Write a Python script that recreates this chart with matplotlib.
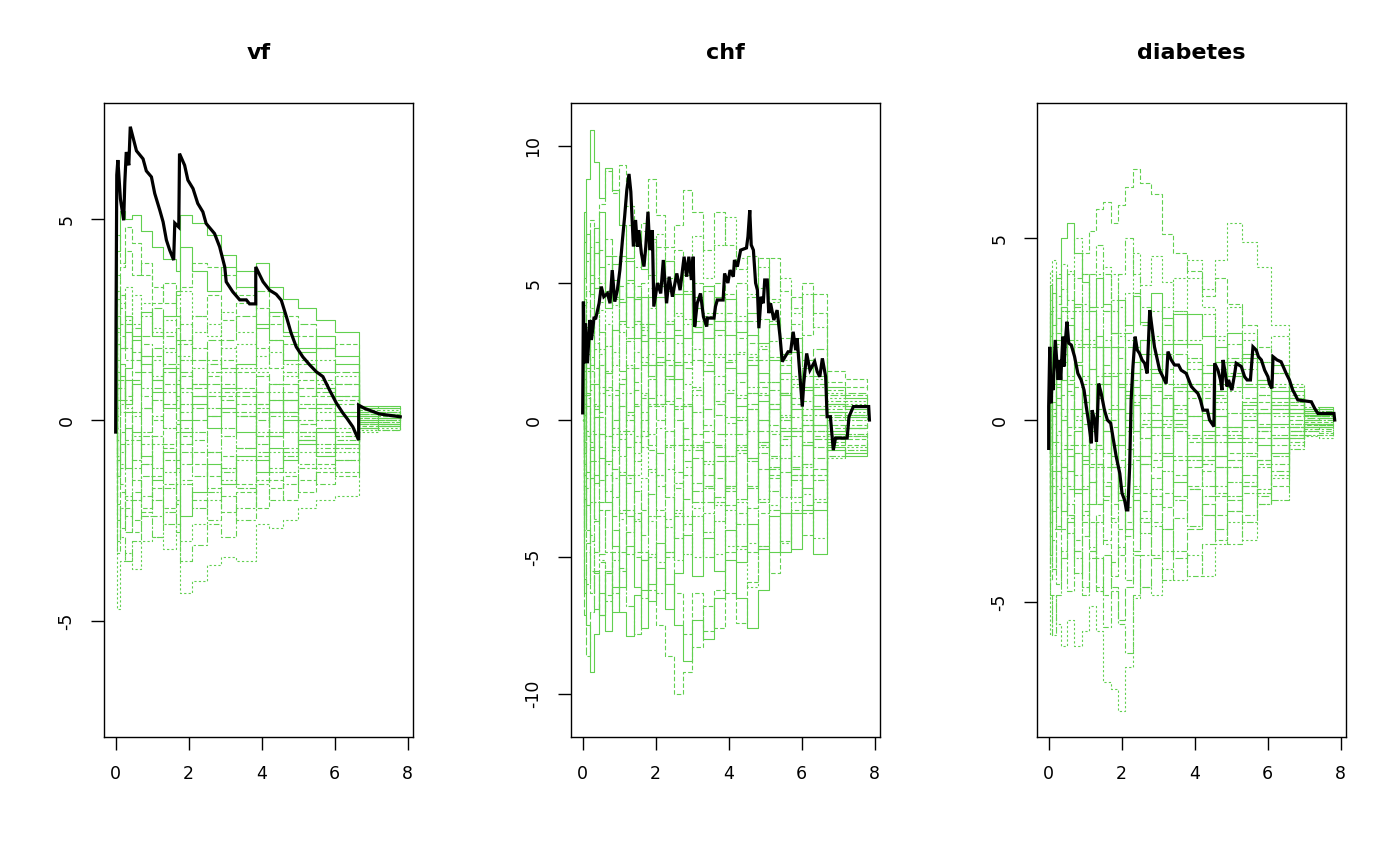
import matplotlib
matplotlib.use("Agg")
import matplotlib.pyplot as plt
import numpy as np

titles = ["vf", "chf", "diabetes"]

# ---------------- panel 1 : vf ----------------
vf_obs_t = [0.00, 0.01, 0.03, 0.06, 0.13, 0.22, 0.25, 0.29, 0.36, 0.40, 0.57, 0.75, 0.84, 0.98,
            1.07, 1.21, 1.30, 1.39, 1.48, 1.59, 1.62, 1.73, 1.75, 1.89, 1.98, 2.12, 2.25, 2.39,
            2.48, 2.71, 2.85, 2.99, 3.03, 3.21, 3.40, 3.58, 3.67, 3.84, 3.84, 4.04, 4.22, 4.40,
            4.54, 4.68, 4.81, 4.95, 5.13, 5.32, 5.50, 5.68, 5.86, 6.05, 6.23, 6.34, 6.50, 6.66,
            6.66, 6.82, 7.23, 7.80]
vf_obs_v = [-0.3, 2.5, 6.1, 6.47, 5.5, 4.97, 5.9, 6.67, 6.34, 7.3, 6.7, 6.5, 6.2, 6.05,
            5.64, 5.22, 4.93, 4.48, 4.23, 3.98, 4.9, 4.8, 6.63, 6.34, 5.97, 5.76, 5.39, 5.18,
            4.89, 4.64, 4.31, 3.81, 3.44, 3.19, 2.99, 2.99, 2.89, 2.89, 3.81, 3.44, 3.23, 3.13,
            2.98, 2.57, 2.16, 1.82, 1.57, 1.37, 1.2, 1.08, 0.75, 0.42, 0.17, 0.04, -0.17, -0.5,
            0.37, 0.29, 0.15, 0.08]
vf_sim_t = [0, 0.03, 0.12, 0.25, 0.45, 0.7, 1.0, 1.3, 1.66, 1.75, 2.1, 2.5, 2.9, 3.3, 3.84,
            4.2, 4.6, 5.0, 5.5, 6.0, 6.66, 7.2, 7.8]
vf_sim = [
    [0, 4.2, 5.2, 5.0, 5.1, 4.7, 4.3, 4.0, 3.7, 5.1, 4.9, 4.6, 4.1, 3.7, 3.9, 3.3, 3.0, 2.8, 2.5, 2.2, 0.3, 0.35, 0.3],
    [0, 3.0, 3.8, 4.2, 3.6, 3.9, 3.3, 2.9, 3.1, 3.3, 3.9, 3.8, 3.6, 3.1, 2.8, 2.4, 2.6, 2.1, 1.8, 1.9, 0.2, 0.15, 0.1],
    [0, 2.2, 2.9, 2.5, 3.1, 2.6, 2.2, 2.5, 1.9, 1.6, 2.2, 2.4, 1.8, 1.3, 1.6, 2.0, 1.4, 1.2, 1.5, 0.9, -0.1, 0.0, -0.05],
    [0, 1.5, 2.1, 1.8, 1.2, 1.9, 1.6, 0.9, 1.4, 2.4, 1.8, 1.2, 1.5, 0.8, 0.4, 0.9, 1.2, 0.6, 0.8, 0.4, 0.1, 0.05, 0.0],
    [0, 0.8, 1.4, 0.6, 1.0, 0.3, 0.8, 1.2, 0.5, -0.6, 0.0, 0.6, 0.2, 0.7, 1.1, 0.5, 0.2, 0.8, 0.4, 0.6, -0.2, -0.15, -0.1],
    [0, -0.5, 0.4, 1.0, 0.2, -0.3, 0.5, -0.2, 0.3, 1.5, 0.9, 0.3, -0.4, 0.1, -0.6, 0.2, -0.3, 0.4, 0.0, -0.4, 0.25, 0.2, 0.15],
    [0, -1.4, -0.6, -1.2, -0.3, -0.9, -1.5, -0.8, -1.2, -2.4, -1.8, -1.1, -1.6, -0.9, -1.3, -0.7, -1.0, -0.5, -0.9, -0.6, -0.05, -0.1, 0.0],
    [0, -2.5, -1.8, -2.2, -2.8, -2.3, -1.7, -2.2, -1.6, -0.2, -0.8, -1.4, -0.9, -1.6, -2.2, -1.7, -1.4, -1.8, -1.3, -1.0, 0.15, 0.1, 0.05],
    [0, -4.7, -3.5, -3.3, -3.7, -3.0, -2.9, -3.2, -2.6, -4.3, -4.0, -3.6, -3.4, -3.5, -2.6, -2.7, -2.5, -2.2, -2.0, -1.9, -0.3, -0.25, -0.2],
    [0, -3.3, -2.7, -2.0, -2.5, -1.9, -2.4, -1.6, -2.1, -3.5, -3.1, -2.6, -2.9, -2.2, -1.5, -2.0, -1.6, -1.2, -1.6, -1.3, 0.05, 0.0, 0.05],
    [0, 2.6, 1.8, 2.4, 1.7, 1.2, 1.8, 1.4, 2.0, 0.8, 0.3, 0.9, 0.5, 0.1, 0.7, 0.2, 0.5, -0.1, 0.3, 0.1, -0.2, -0.25, -0.2],
    [0, 0.3, -0.8, -0.2, -1.0, -0.4, -1.2, -1.7, -1.0, 0.4, -0.3, -0.8, -0.2, -0.7, 0.3, -0.3, -0.8, -0.3, -0.6, -1.0, 0.1, 0.15, 0.1],
    [0, 1.2, 0.5, 1.3, 2.0, 1.4, 0.7, 1.3, 0.6, 0.0, 0.6, 0.1, 0.8, 1.4, 2.4, 2.0, 1.5, 1.8, 1.2, 1.4, 0.0, 0.05, 0.0],
    [0, -1.9, -1.2, -0.5, -1.5, -2.2, -1.4, -0.7, -1.3, -0.4, -1.1, -1.7, -2.3, -1.8, -0.9, -1.5, -2.0, -1.5, -1.1, -1.4, -0.15, -0.1, -0.1],
    [0, 3.6, 2.8, 3.3, 2.4, 2.9, 2.3, 1.7, 2.3, 3.2, 2.6, 2.1, 2.7, 2.2, 1.3, 1.7, 1.1, 1.5, 0.9, 1.1, 0.2, 0.25, 0.2],
    [0, -0.9, -1.6, -2.4, -1.8, -1.1, -0.4, -1.0, -0.3, -1.5, -2.0, -2.5, -1.9, -2.5, -1.6, -1.2, -0.7, -1.1, -0.7, -0.3, -0.1, -0.05, -0.05],
    [0, 0.5, 1.0, 0.2, -0.5, 0.3, 1.0, 0.4, 1.0, 2.0, 1.5, 2.0, 1.3, 0.6, 0.0, 0.5, 0.9, 0.3, 0.7, 0.9, 0.3, 0.3, 0.25],
    [0, -3.0, -2.2, -2.8, -2.0, -1.4, -2.0, -2.6, -2.0, -0.8, -1.4, -0.8, -1.3, -0.7, 0.2, -0.4, 0.1, -0.5, -0.2, -0.7, -0.05, 0.0, 0.0],
    [0, 1.9, 1.1, 0.4, 0.9, 1.6, 1.0, 0.3, 0.9, -0.3, 0.4, -0.2, 0.3, -0.3, -1.0, -0.4, 0.0, -0.6, -0.3, 0.2, 0.1, 0.05, 0.1],
    [0, 4.6, 3.9, 4.8, 4.4, 3.6, 2.9, 3.4, 2.8, 1.9, 2.6, 3.1, 2.5, 2.9, 1.8, 1.3, 1.9, 1.4, 1.0, 0.6, -0.1, -0.15, -0.1],
    [0, 0.9, 0.2, -0.6, 0.1, 0.8, 1.5, 2.2, 1.6, 0.7, 1.3, 0.7, 1.2, 1.9, 1.2, 0.7, 0.2, -0.3, 0.2, -0.2, 0.0, -0.05, 0.0],
    [0, -0.2, -1.1, -1.9, -1.2, -0.6, 0.1, 0.7, 0.0, -1.1, -0.5, 0.1, 0.7, 0.2, -0.4, 0.1, 0.5, 0.0, 0.4, 0.1, -0.1, -0.1, -0.05],
    [0, 2.3, 3.1, 2.2, 1.5, 2.1, 2.8, 2.1, 2.6, 1.2, 0.8, 1.4, 2.0, 2.6, 3.2, 2.6, 2.1, 2.4, 1.8, 1.2, 0.15, 0.2, 0.15],
    [0, -2.1, -2.9, -3.5, -3.0, -2.4, -2.9, -2.3, -2.8, -1.6, -2.2, -1.8, -1.2, -1.7, -0.8, -1.3, -0.9, -0.4, -0.8, -0.5, -0.2, -0.15, -0.2],
    [0, 1.0, 1.8, 2.6, 2.1, 2.7, 2.1, 2.6, 3.2, 4.3, 3.7, 3.2, 3.8, 3.3, 2.3, 2.7, 2.2, 1.7, 2.1, 1.6, 0.35, 0.3, 0.3],
    [0, -1.0, -0.3, 0.5, 1.2, 0.6, 0.0, -0.6, -0.1, 1.1, 0.6, 1.1, 0.6, 1.2, 0.4, 0.9, 0.5, 1.0, 0.6, 0.2, 0.05, 0.1, 0.05],
    [0, 0.1, 0.8, 0.3, -0.4, -1.1, -0.6, -1.3, -2.0, -3.0, -2.6, -2.0, -1.5, -1.0, -0.3, -0.8, -1.3, -0.8, -1.2, -0.8, -0.25, -0.2, -0.25],
    [0, 3.2, 2.4, 1.5, 2.3, 1.6, 1.1, 1.8, 1.3, 0.2, 0.9, 1.5, 0.9, 0.4, -0.4, 0.2, 0.7, 1.2, 0.8, 0.5, 0.2, 0.2, 0.15],
]

# ---------------- panel 2 : chf ----------------
chf_obs_t = [0.00, 0.02, 0.04, 0.08, 0.13, 0.20, 0.24, 0.31, 0.36, 0.45, 0.51, 0.58, 0.68, 0.75,
             0.81, 0.88, 0.95, 1.02, 1.09, 1.15, 1.21, 1.27, 1.32, 1.39, 1.45, 1.50, 1.54, 1.61,
             1.68, 1.73, 1.79, 1.84, 1.91, 1.95, 2.05, 2.14, 2.21, 2.30, 2.37, 2.46, 2.58, 2.67,
             2.78, 2.85, 2.91, 2.98, 3.03, 3.07, 3.14, 3.23, 3.31, 3.40, 3.42, 3.60, 3.64, 3.69,
             3.85, 3.89, 3.98, 4.04, 4.13, 4.16, 4.24, 4.33, 4.49, 4.53, 4.58, 4.62, 4.68, 4.74,
             4.79, 4.83, 4.89, 4.95, 4.99, 5.06, 5.10, 5.15, 5.24, 5.33, 5.41, 5.47, 5.63, 5.70,
             5.77, 5.84, 5.88, 5.97, 6.02, 6.06, 6.14, 6.23, 6.36, 6.43, 6.50, 6.57, 6.66, 6.70,
             6.79, 6.87, 6.93, 7.25, 7.30, 7.42, 7.84, 7.86]
chf_obs_v = [0.26, 4.32, 2.07, 3.53, 2.07, 3.65, 2.92, 3.72, 3.72, 4.26, 4.87, 4.5, 4.62, 4.26,
             5.47, 4.32, 4.74, 5.47, 6.57, 7.42, 8.39, 8.98, 8.33, 6.33, 7.3, 6.33, 6.93, 6.08,
             5.6, 6.33, 7.6, 6.2, 6.93, 4.14, 5.0, 4.62, 5.84, 4.26, 5.23, 4.5, 5.35, 4.74,
             5.96, 5.23, 5.96, 5.11, 5.96, 3.41, 4.26, 4.62, 3.77, 3.41, 3.72, 3.72, 4.14, 4.38,
             4.38, 5.35, 5.0, 5.47, 5.23, 5.84, 5.6, 6.2, 6.28, 6.69, 7.66, 6.39, 6.2, 5.0,
             4.74, 3.35, 4.5, 4.26, 5.11, 5.11, 3.9, 4.26, 3.65, 4.01, 3.04, 2.13, 2.49, 2.49,
             3.22, 2.55, 2.98, 1.34, 0.49, 1.34, 2.43, 1.82, 2.13, 1.76, 1.58, 2.25, 1.58, 0.12,
             0.12, -1.1, -0.66, -0.66, 0.12, 0.49, 0.49, 0.0]
chf_sim_t = [0, 0.03, 0.1, 0.2, 0.3, 0.45, 0.6, 0.8, 1.0, 1.2, 1.4, 1.6, 1.8, 2.0, 2.25, 2.5,
             2.75, 3.0, 3.3, 3.6, 3.9, 4.2, 4.5, 4.8, 5.1, 5.4, 5.7, 6.0, 6.3, 6.7, 7.2, 7.8]
chf_sim = [
    [0, 6.5, 8.8, 10.6, 9.4, 8.1, 9.2, 8.4, 7.1, 5.9, 6.8, 5.5, 6.6, 4.9, 5.8, 4.6, 5.3, 4.1, 4.9, 3.6, 4.4, 3.2, 3.9, 2.8, 3.5, 2.4, 3.0, 2.2, 1.6, 1.2, 0.8, 0.6],
    [0, 4.2, 5.8, 7.3, 6.1, 7.9, 9.1, 8.3, 9.3, 7.8, 6.4, 7.2, 8.8, 7.5, 6.3, 7.1, 8.4, 7.6, 6.2, 7.6, 6.4, 5.5, 6.0, 4.8, 5.9, 4.7, 4.1, 5.0, 3.9, 1.8, 1.5, 1.2],
    [0, 2.8, 4.3, 3.1, 5.2, 4.0, 2.7, 4.4, 3.2, 1.9, 3.6, 2.3, 4.1, 2.9, 1.5, 2.8, 1.3, 2.6, 3.9, 2.4, 1.1, 2.5, 1.2, 2.7, 1.4, 0.2, 1.6, 0.4, 1.5, 0.5, 0.3, 0.2],
    [0, 1.5, -0.6, 1.8, 0.4, 2.6, 1.1, -0.5, 1.3, 2.9, 1.4, 3.4, 2.0, 0.6, 2.2, 0.8, -0.7, 1.1, -0.4, 1.6, 0.1, -1.2, 0.4, -0.9, 0.6, -0.7, 0.8, -0.4, 0.9, -0.3, -0.2, -0.1],
    [0, -1.2, 0.9, -0.8, -2.3, -0.5, 1.2, -0.3, -1.9, -0.4, 1.1, -0.6, 0.8, 2.3, 0.7, 2.1, 0.5, -1.1, 0.4, -1.3, -2.6, -1.1, -2.4, -0.8, -2.1, -0.6, -1.7, -0.2, -1.4, 0.2, 0.1, 0.1],
    [0, -3.6, -2.1, -4.4, -3.0, -4.9, -3.3, -1.8, -3.4, -2.0, -3.7, -5.1, -3.5, -2.0, -3.9, -2.3, -0.9, -2.6, -4.1, -2.8, -1.3, -2.9, -1.5, -3.0, -1.7, -0.4, -2.0, -0.8, -2.2, -0.6, -0.5, -0.4],
    [0, -5.8, -7.5, -9.2, -7.8, -6.3, -7.7, -6.1, -7.0, -7.9, -6.4, -5.1, -6.6, -5.4, -6.9, -5.6, -4.2, -5.7, -4.3, -5.5, -4.0, -5.2, -3.8, -4.7, -3.5, -4.8, -3.4, -2.5, -3.3, -1.0, -1.2, -0.9],
    [0, -2.4, -4.0, -5.5, -6.9, -5.2, -6.4, -4.8, -3.3, -4.9, -3.4, -4.8, -6.2, -7.5, -8.6, -10.0, -9.2, -8.3, -6.8, -7.6, -6.3, -7.4, -5.9, -4.6, -5.6, -4.4, -3.3, -4.2, -3.0, -0.7, -0.9, -0.6],
    [0, 0.6, 2.4, 4.1, 2.6, 4.3, 5.7, 4.2, 5.8, 7.1, 5.6, 6.9, 5.3, 6.8, 5.2, 3.8, 5.4, 6.7, 5.2, 6.4, 7.4, 5.9, 4.6, 5.6, 4.3, 5.2, 3.9, 4.6, 3.4, 1.0, 0.7, 0.8],
    [0, -0.3, -1.9, -0.4, 1.3, 0.1, -1.6, -2.8, -1.3, 0.2, -1.2, 0.3, -1.1, -2.4, -0.9, -2.5, -3.8, -2.3, -0.8, -2.1, -0.5, 0.9, -0.4, 1.2, -0.2, 1.0, -0.3, 0.7, -0.6, 0.4, 0.5, 0.3],
    [0, 3.5, 1.9, 3.4, 4.8, 6.2, 4.7, 6.0, 4.4, 3.0, 4.5, 3.1, 1.6, 3.2, 4.7, 3.3, 1.9, 3.4, 2.0, 0.6, 2.1, 3.6, 2.2, 3.7, 2.3, 1.0, 2.5, 1.2, 2.6, 0.9, 1.0, 0.7],
    [0, -4.5, -6.0, -4.2, -5.6, -7.1, -5.5, -7.0, -5.4, -6.8, -7.8, -6.2, -4.9, -6.3, -4.8, -3.4, -4.9, -3.5, -5.0, -3.7, -2.4, -3.8, -2.5, -1.2, -2.6, -1.4, -2.8, -1.6, -0.4, -1.3, -1.1, -0.8],
    [0, 5.2, 6.8, 5.3, 7.0, 5.6, 4.1, 5.7, 4.3, 5.8, 4.4, 2.9, 4.5, 3.0, 1.6, 3.1, 4.6, 3.2, 1.8, 3.3, 1.9, 0.5, 2.0, 0.7, 2.2, 0.9, -0.4, 1.1, -0.2, 0.6, 0.4, 0.3],
    [0, -2.0, -0.4, -2.1, -3.7, -2.2, -0.6, 0.9, -0.7, -2.3, -0.8, 0.8, -0.9, 0.6, 2.0, 0.5, 2.1, 3.6, 2.1, 0.7, 2.2, 0.8, 2.3, 0.9, -0.5, 1.0, -0.4, 1.2, -0.2, -0.8, -0.6, -0.5],
    [0, 1.0, 2.7, 1.1, -0.5, 1.0, -0.6, -2.1, -0.5, -2.0, -3.6, -2.1, -3.7, -5.2, -3.6, -5.1, -3.5, -5.0, -3.4, -4.9, -3.3, -4.7, -6.1, -4.6, -3.1, -4.5, -3.0, -1.6, -2.9, -0.5, -0.3, -0.2],
    [0, 2.1, 0.5, -1.1, 0.6, -1.0, -2.6, -1.1, 0.5, 2.0, 0.6, -1.0, 0.5, 2.1, 3.6, 5.1, 3.7, 2.2, 3.8, 2.3, 3.9, 2.4, 1.0, 2.6, 1.1, -0.3, 1.2, -0.2, 1.3, 1.1, 0.9, 0.8],
    [0, -7.1, -8.6, -7.0, -5.5, -7.1, -5.6, -4.0, -5.5, -4.1, -2.6, -4.2, -2.7, -1.2, -2.8, -4.3, -2.9, -1.4, -3.0, -1.5, -3.1, -4.6, -3.2, -1.8, -3.3, -1.9, -0.6, -2.0, -0.7, -0.2, -0.3, -0.1],
    [0, 3.0, 4.7, 6.3, 4.8, 3.2, 1.7, 3.3, 1.8, 0.3, 1.9, 3.5, 2.0, 0.5, -1.0, 0.4, -1.1, 0.3, 1.8, 0.2, -1.3, 0.1, -1.4, 0.0, 1.4, 0.1, 1.5, 0.2, -1.0, 0.3, 0.2, 0.2],
    [0, -1.6, -3.1, -1.5, 0.1, -1.4, -3.0, -4.6, -6.1, -4.6, -6.1, -7.6, -6.0, -4.5, -6.0, -7.5, -8.8, -7.3, -8.0, -6.5, -5.1, -6.5, -7.6, -6.2, -4.8, -3.4, -4.7, -3.3, -4.9, -1.1, -1.3, -1.0],
    [0, 0.2, 1.8, 3.4, 1.9, 0.3, 1.8, 3.3, 4.9, 3.4, 4.9, 3.3, 4.8, 6.3, 4.8, 6.2, 4.7, 3.2, 4.7, 3.1, 4.6, 3.0, 4.5, 5.9, 4.4, 3.0, 4.5, 3.1, 4.6, 1.4, 1.2, 1.1],
    [0, -0.8, 0.8, 2.3, 3.9, 2.4, 0.9, 2.5, 1.0, -0.5, -2.0, -0.4, -1.9, -0.3, -1.8, -3.3, -1.7, -3.2, -1.6, -3.1, -4.6, -3.0, -4.5, -2.9, -1.4, -2.8, -1.3, -2.7, -4.3, -1.4, -1.0, -0.7],
    [0, 4.4, 2.9, 1.3, 2.8, 1.2, 2.7, 1.1, -0.4, 1.0, 2.5, 1.0, -0.5, -2.0, -0.4, -1.9, -0.3, 1.2, -0.2, 1.3, -0.1, 1.4, 2.8, 1.4, 2.9, 1.5, 0.1, 1.6, 0.2, 0.0, 0.1, 0.0],
    [0, 1.8, 3.4, 5.0, 6.5, 5.0, 6.6, 5.1, 3.6, 5.1, 3.6, 2.1, 0.6, 2.1, 0.6, -0.9, 0.6, -0.9, -2.4, -0.9, -2.4, -0.9, 0.6, -0.8, 0.6, 2.0, 0.6, 1.9, 0.5, 0.6, 0.5, 0.4],
    [0, -2.9, -4.5, -3.0, -1.5, -3.0, -1.5, 0.0, 1.5, 0.0, -1.5, 0.0, 1.5, 0.0, 1.5, 0.0, -1.5, -3.0, -1.5, -3.0, -1.5, 0.0, -1.4, 0.0, -1.3, 0.0, 1.3, 0.0, 1.2, 0.3, 0.2, 0.2],
    [0, 7.6, 6.1, 4.6, 6.1, 7.6, 6.0, 4.5, 6.0, 4.5, 3.0, 4.5, 3.0, 4.5, 3.0, 1.5, 3.0, 4.5, 3.0, 4.5, 3.1, 1.7, 3.1, 1.7, 0.4, 1.7, 0.4, -0.9, 0.4, -0.4, -0.3, -0.2],
    [0, -6.3, -4.8, -6.3, -4.8, -3.3, -4.8, -6.3, -4.8, -3.3, -4.8, -3.3, -1.8, -3.3, -4.8, -6.3, -7.8, -6.3, -7.7, -6.2, -4.8, -3.4, -4.8, -3.4, -2.0, -3.4, -2.0, -3.4, -2.0, -0.9, -0.7, -0.6],
    [0, 0.9, -0.6, -2.1, -3.6, -5.1, -6.6, -5.1, -3.6, -2.1, -0.6, 0.9, 2.4, 0.9, 2.4, 3.9, 2.4, 0.9, 2.4, 3.9, 2.4, 3.8, 2.4, 1.0, -0.4, 1.0, -0.4, -1.7, -0.4, 0.8, 0.6, 0.5],
    [0, -1.0, 0.5, 2.0, 0.5, 2.0, 3.5, 2.0, 3.5, 5.0, 3.5, 5.0, 6.5, 5.0, 3.5, 2.0, 3.5, 5.0, 3.5, 5.0, 3.6, 5.0, 3.6, 2.2, 3.6, 2.2, 3.5, 2.2, 0.9, 0.7, 0.5, 0.5],
    [0, 2.5, 1.0, -0.5, -2.0, -0.5, -2.0, -3.5, -2.0, -3.5, -5.0, -6.5, -5.0, -3.5, -5.0, -3.5, -2.0, -0.5, -2.0, -0.5, 1.0, -0.5, 1.0, -0.4, -1.8, -0.4, -1.8, -3.1, -1.8, -0.5, -0.6, -0.4],
    [0, -4.0, -2.5, -1.0, 0.5, 2.0, 0.5, -1.0, 0.5, -1.0, 0.5, 2.0, 3.5, 2.0, 3.5, 2.0, 0.5, -1.0, -2.5, -1.0, -2.5, -1.0, 0.4, -1.0, 0.4, -0.9, -2.2, -0.9, 0.4, 0.1, 0.0, 0.0],
]

# ---------------- panel 3 : diabetes ----------------
dia_obs_t = [0.00, 0.00, 0.03, 0.07, 0.09, 0.12, 0.18, 0.26, 0.30, 0.33, 0.39, 0.42, 0.46, 0.50,
             0.55, 0.62, 0.71, 0.80, 0.89, 0.97, 1.03, 1.10, 1.17, 1.19, 1.26, 1.31, 1.37, 1.44,
             1.53, 1.61, 1.70, 1.76, 1.85, 1.95, 2.01, 2.08, 2.13, 2.17, 2.22, 2.26, 2.31, 2.37,
             2.43, 2.49, 2.56, 2.63, 2.70, 2.77, 2.83, 2.90, 2.98, 3.04, 3.13, 3.22, 3.27, 3.36,
             3.45, 3.56, 3.63, 3.77, 3.84, 3.91, 4.00, 4.09, 4.16, 4.23, 4.35, 4.41, 4.53, 4.55,
             4.64, 4.71, 4.75, 4.78, 4.84, 4.89, 4.93, 5.02, 5.10, 5.14, 5.28, 5.37, 5.44, 5.53,
             5.60, 5.69, 5.75, 5.83, 5.92, 6.01, 6.05, 6.12, 6.15, 6.26, 6.37, 6.45, 6.51, 6.60,
             6.69, 6.74, 6.83, 7.20, 7.29, 7.38, 7.82, 7.84]
dia_obs_v = [-0.78, 0.37, 2.01, 0.46, 1.19, 0.82, 2.2, 1.1, 1.65, 1.1, 2.29, 1.47, 2.2, 2.7,
             2.11, 2.06, 1.74, 1.28, 1.1, 0.82, 0.37, -0.09, -0.64, 0.27, 0.0, -0.6, 1.0, 0.73,
             0.27, 0.0, -0.09, -0.46, -1.0, -1.47, -2.01, -2.2, -2.47, -2.47, -1.28, 0.55, 1.47, 2.29,
             1.92, 1.83, 1.65, 1.56, 1.28, 3.02, 2.56, 2.01, 1.65, 1.37, 1.19, 1.0, 1.88, 1.65,
             1.51, 1.51, 1.37, 1.28, 1.1, 0.92, 0.82, 0.73, 0.55, 0.27, 0.27, 0.0, -0.18, 1.56,
             1.37, 1.1, 0.82, 1.65, 1.28, 0.92, 1.1, 0.82, 1.28, 1.56, 1.47, 1.19, 1.1, 1.1,
             2.01, 1.92, 1.74, 1.65, 1.37, 1.19, 1.0, 0.87, 1.74, 1.65, 1.6, 1.42, 1.28, 1.1,
             0.82, 0.73, 0.55, 0.5, 0.32, 0.18, 0.18, 0.0]
dia_sim_t = [0, 0.03, 0.1, 0.2, 0.35, 0.5, 0.7, 0.9, 1.1, 1.3, 1.5, 1.7, 1.9, 2.1, 2.3, 2.5,
             2.8, 3.1, 3.4, 3.8, 4.2, 4.55, 4.9, 5.3, 5.7, 6.1, 6.6, 7.0, 7.4, 7.8]
dia_sim = [
    [0, 3.7, 2.6, 3.9, 5.0, 5.4, 4.6, 3.8, 3.1, 3.9, 3.2, 2.4, 3.3, 2.6, 3.4, 2.7, 3.5, 2.8, 2.1, 2.9, 2.3, 1.6, 2.4, 1.7, 1.1, 1.5, 0.8, 0.3, 0.35, 0.3],
    [0, 1.9, 3.1, 2.4, 3.6, 2.8, 3.9, 4.6, 5.2, 5.8, 6.0, 5.4, 5.9, 6.4, 6.9, 6.5, 6.2, 5.1, 4.6, 4.1, 3.4, 3.9, 3.2, 2.6, 2.0, 1.3, 0.9, 0.2, 0.15, 0.1],
    [0, -5.9, -4.8, -5.6, -6.2, -5.5, -6.2, -5.8, -5.1, -5.8, -7.2, -7.4, -8.0, -6.8, -4.9, -4.6, -4.8, -4.1, -4.4, -3.7, -4.3, -3.4, -2.8, -3.3, -2.3, -1.6, -0.7, -0.45, -0.5, -0.4],
    [0, -3.2, -4.1, -2.9, -3.8, -2.7, -1.9, -2.8, -3.6, -2.6, -3.4, -4.3, -3.5, -4.4, -3.6, -2.7, -3.7, -4.4, -3.6, -4.3, -3.4, -2.6, -3.4, -2.6, -1.9, -1.2, -0.5, -0.2, -0.25, -0.2],
    [0, 0.8, -0.6, 0.9, 1.8, 0.7, 1.6, 2.5, 1.4, 0.6, 1.5, 2.4, 1.7, 0.8, -0.3, 0.6, 1.4, 0.7, -0.1, 0.8, 1.5, 0.7, -0.2, 0.5, 1.1, 0.4, 0.7, 0.1, 0.1, 0.1],
    [0, -1.4, 0.2, -0.9, -1.8, -0.8, -1.9, -1.1, -0.2, -1.2, -2.1, -1.3, -0.4, 0.7, -0.3, -1.2, -0.4, 0.6, -0.3, -1.1, -0.4, 0.5, -0.3, -0.9, -0.2, 0.4, -0.3, -0.1, -0.1, -0.05],
    [0, 2.9, 1.7, 0.6, 1.6, 2.6, 1.5, 0.5, 1.4, 2.3, 1.2, 0.3, -0.7, 0.2, 1.3, 2.2, 1.3, 2.1, 2.9, 2.1, 1.3, 2.0, 1.2, 1.8, 1.0, 0.6, 0.2, 0.25, 0.3, 0.25],
    [0, -2.2, -1.0, -2.4, -1.3, -0.2, 0.9, -0.1, -1.2, -2.3, -1.3, -0.2, -1.1, -2.4, -3.6, -2.5, -1.6, -2.4, -1.5, -0.6, -1.4, -2.1, -1.3, -0.6, -1.2, -0.5, -0.2, -0.15, -0.15, -0.1],
    [0, 1.2, 2.4, 3.4, 2.3, 1.2, 0.1, 1.1, 2.1, 3.1, 4.2, 3.3, 2.4, 3.5, 4.6, 3.7, 4.5, 3.8, 3.0, 3.9, 3.1, 2.3, 3.1, 2.4, 1.6, 2.3, 1.0, 0.35, 0.3, 0.3],
    [0, -4.4, -3.3, -4.5, -3.6, -4.7, -3.6, -2.5, -3.5, -4.6, -5.7, -4.7, -5.6, -6.4, -4.8, -3.7, -2.9, -3.6, -2.7, -1.9, -2.6, -1.8, -2.5, -1.7, -2.3, -1.5, -0.6, -0.3, -0.35, -0.3],
    [0, 0.3, 1.5, 0.4, -0.7, -1.8, -0.9, 0.2, -0.8, 0.3, 1.3, 0.4, 1.3, 2.4, 3.5, 2.6, 1.8, 2.6, 1.8, 1.0, 0.2, 1.0, 1.7, 1.0, 0.3, 0.9, 0.4, 0.05, 0.05, 0.0],
    [0, -0.6, -1.8, -3.0, -2.0, -3.1, -4.2, -3.2, -2.3, -1.3, -0.3, -1.3, -2.2, -1.2, -2.2, -3.1, -2.3, -1.4, -2.2, -2.9, -2.1, -1.3, -2.1, -2.8, -2.0, -2.2, -0.8, -0.4, -0.4, -0.35],
    [0, 2.3, 3.5, 2.2, 1.1, 2.2, 3.2, 2.1, 3.0, 2.0, 1.0, 2.0, 0.9, -0.2, 0.9, 1.8, 0.9, 0.1, 0.9, 0.1, -0.6, 0.1, -0.6, 0.0, -0.7, -0.1, 0.3, 0.15, 0.2, 0.15],
    [0, -2.8, -1.6, -0.4, 0.7, -0.4, -1.5, -2.6, -1.7, -0.7, -1.7, -2.7, -3.7, -2.8, -1.9, -1.0, -0.2, 0.6, -0.2, 0.6, 1.3, 0.6, 1.3, 0.6, -0.1, 0.5, 0.1, -0.05, -0.05, 0.0],
    [0, 3.3, 4.4, 3.2, 4.3, 3.3, 2.2, 3.2, 2.2, 1.2, 2.2, 1.3, 2.3, 1.4, 0.5, 1.4, 2.3, 3.1, 3.9, 4.4, 3.6, 4.4, 5.4, 4.9, 4.2, 2.6, 0.6, 0.2, 0.2, 0.2],
    [0, -1.0, 0.1, 1.2, 0.1, 1.1, 2.1, 1.2, 0.2, -0.8, 0.2, 1.2, 0.3, 1.3, 0.4, -0.5, -1.3, -0.5, 0.3, -0.5, -1.2, -2.0, -1.3, -2.0, -1.3, -0.7, -0.3, -0.25, -0.2, -0.2],
    [0, 1.6, 0.5, -0.6, -1.6, -2.6, -3.6, -4.6, -3.6, -4.7, -3.7, -4.6, -5.5, -4.6, -3.7, -4.6, -3.8, -3.0, -3.8, -3.0, -2.3, -3.0, -2.2, -1.5, -2.1, -1.4, -0.4, -0.1, -0.15, -0.1],
    [0, -0.2, 1.0, 2.1, 3.1, 4.1, 3.1, 4.0, 3.0, 2.0, 3.0, 2.0, 1.0, 2.0, 1.1, 0.2, 1.0, 1.8, 1.0, 1.7, 1.0, 0.3, -0.4, 0.3, -0.3, 0.3, 0.6, 0.3, 0.25, 0.2],
    [0, -3.7, -2.5, -1.4, -2.5, -1.4, -0.3, 0.7, -0.3, 0.7, -0.3, -1.3, -0.4, 0.6, 1.6, 0.7, -0.2, -1.0, -1.7, -1.0, -0.3, -1.0, -0.2, 0.4, -0.2, -0.9, -0.5, -0.2, -0.2, -0.15],
    [0, 0.5, -0.7, -1.8, -0.8, 0.3, -0.7, -1.8, -2.8, -3.8, -4.8, -3.9, -3.0, -2.1, -1.1, -2.0, -2.8, -2.0, -1.1, -1.9, -2.6, -3.3, -2.5, -1.8, -1.1, -1.8, -0.3, 0.0, 0.05, 0.0],
    [0, 2.0, 0.9, 2.0, 3.0, 4.0, 5.0, 4.0, 3.1, 4.0, 3.0, 4.0, 3.1, 2.2, 1.3, 2.2, 3.0, 2.2, 3.0, 2.2, 2.9, 2.2, 1.5, 2.2, 1.6, 1.0, 0.5, 0.1, 0.1, 0.05],
    [0, -1.8, -3.0, -1.9, -3.0, -1.9, -0.9, -1.9, -0.9, 0.1, -0.9, 0.0, 1.0, 0.0, -1.0, -0.1, 0.8, -0.1, 0.8, 1.6, 0.8, 1.6, 0.9, 1.6, 0.9, 0.3, -0.1, -0.3, -0.3, -0.25],
    [0, 0.6, 1.7, 2.8, 1.8, 0.8, -0.2, -1.2, -0.2, -1.2, -2.2, -1.2, -2.2, -3.2, -2.2, -1.2, -2.1, -3.0, -2.1, -1.3, -0.5, -1.3, -0.5, 0.2, -0.5, 0.2, 0.3, 0.1, 0.1, 0.1],
    [0, -0.9, -2.0, -1.0, 0.0, 1.0, 0.0, 1.0, 2.0, 1.0, 2.0, 3.0, 2.0, 1.0, 2.0, 1.1, 0.2, 1.0, 0.2, 1.0, 0.2, -0.6, 0.2, -0.5, 0.2, -0.4, -0.1, 0.0, 0.0, 0.0],
    [0, 3.0, 2.0, 1.0, 0.0, -1.0, -2.0, -1.0, 0.0, 1.0, 0.0, -1.0, -2.0, -3.0, -2.0, -1.0, 0.0, -0.9, 0.0, 0.8, 0.0, 0.8, 1.6, 0.9, 0.2, 0.8, 0.2, 0.2, 0.15, 0.15],
    [0, -2.5, -1.4, -0.3, -1.3, -2.3, -3.3, -2.3, -1.3, -2.3, -3.3, -2.3, -1.3, -0.3, 0.7, -0.2, -1.1, -0.2, -1.0, -1.8, -1.0, -0.2, -0.9, -0.2, 0.5, -0.2, -0.4, -0.2, -0.2, -0.2],
    [0, 4.1, 3.0, 4.0, 3.0, 2.0, 3.0, 2.0, 1.0, 2.0, 1.0, 0.0, 1.0, 0.0, -1.0, 0.0, -0.9, 0.0, 0.9, 0.1, 0.9, 0.1, 0.8, 0.1, 0.7, 0.1, 0.5, 0.2, 0.2, 0.2],
    [0, -1.2, -0.1, 1.0, 2.0, 3.0, 2.0, 3.0, 4.0, 4.8, 4.0, 3.0, 4.0, 5.0, 4.0, 3.1, 2.2, 1.4, 2.2, 1.4, 0.6, 1.4, 2.1, 1.4, 0.7, 1.3, -0.2, -0.1, -0.1, -0.1],
    [0, 1.4, 0.3, 1.3, 0.3, -0.7, 0.3, -0.7, -1.7, -0.7, 0.3, -0.7, 0.3, 1.3, 0.4, -0.5, 0.4, -0.4, 0.4, -0.4, -1.1, -0.4, -1.1, -1.8, -1.1, -0.5, 0.0, 0.0, 0.05, 0.0],
    [0, -4.8, -5.9, -4.8, -3.8, -2.8, -3.8, -4.8, -3.8, -2.8, -1.8, -2.8, -1.8, -0.8, -1.8, -2.8, -1.9, -1.0, -0.2, -1.0, -1.8, -1.0, -1.7, -1.0, -0.3, -1.0, -0.2, -0.1, -0.1, -0.1],
]

y_limits = [7.89, 11.57, 8.71]
y_ticks = [[-5, 0, 5], [-10, -5, 0, 5, 10], [-5, 0, 5]]
x_ticks = [0, 2, 4, 6, 8]

panels = [
    (vf_obs_t, vf_obs_v, vf_sim_t, vf_sim),
    (chf_obs_t, chf_obs_v, chf_sim_t, chf_sim),
    (dia_obs_t, dia_obs_v, dia_sim_t, dia_sim),
]

green = "#61D04F"
styles = ['-', (0, (4, 2)), (0, (2, 2)), (0, (2, 2, 5, 2)), (0, (7, 2)), (0, (2, 1.5, 6, 1.5))]

plt.rcParams['font.family'] = ['DejaVu Sans']
fig = plt.figure(figsize=(14, 8.66), dpi=100)
lefts = [104 / 1400, 571 / 1400, 1037 / 1400]
w = 309 / 1400
bottom = 1 - 737 / 866
h = 634 / 866

for i, (ot, ov, st, sims) in enumerate(panels):
    ax = fig.add_axes([lefts[i], bottom, w, h])
    for j, path in enumerate(sims):
        ax.step(st, path, where='post', color=green, lw=0.8,
                linestyle=styles[j % len(styles)])
    ax.plot(ot, ov, color='black', lw=2.3, solid_joinstyle='miter')
    ax.set_xlim(-0.32, 8.15)
    ax.set_ylim(-y_limits[i], y_limits[i])
    ax.set_xticks(x_ticks)
    ax.set_xticklabels([str(v) for v in x_ticks])
    ax.set_yticks(y_ticks[i])
    ax.set_yticklabels([str(v) for v in y_ticks[i]], rotation=90, va='center')
    ax.tick_params(axis='both', direction='out', length=9.5, width=1.0, labelsize=12.5, pad=11)
    for s in ax.spines.values():
        s.set_linewidth(1.0)
    ax.text(0.5, 1.079, titles[i], transform=ax.transAxes, ha='center', va='center',
            fontsize=16, fontweight='bold')

fig.savefig("out.png", dpi=100, facecolor='white')
